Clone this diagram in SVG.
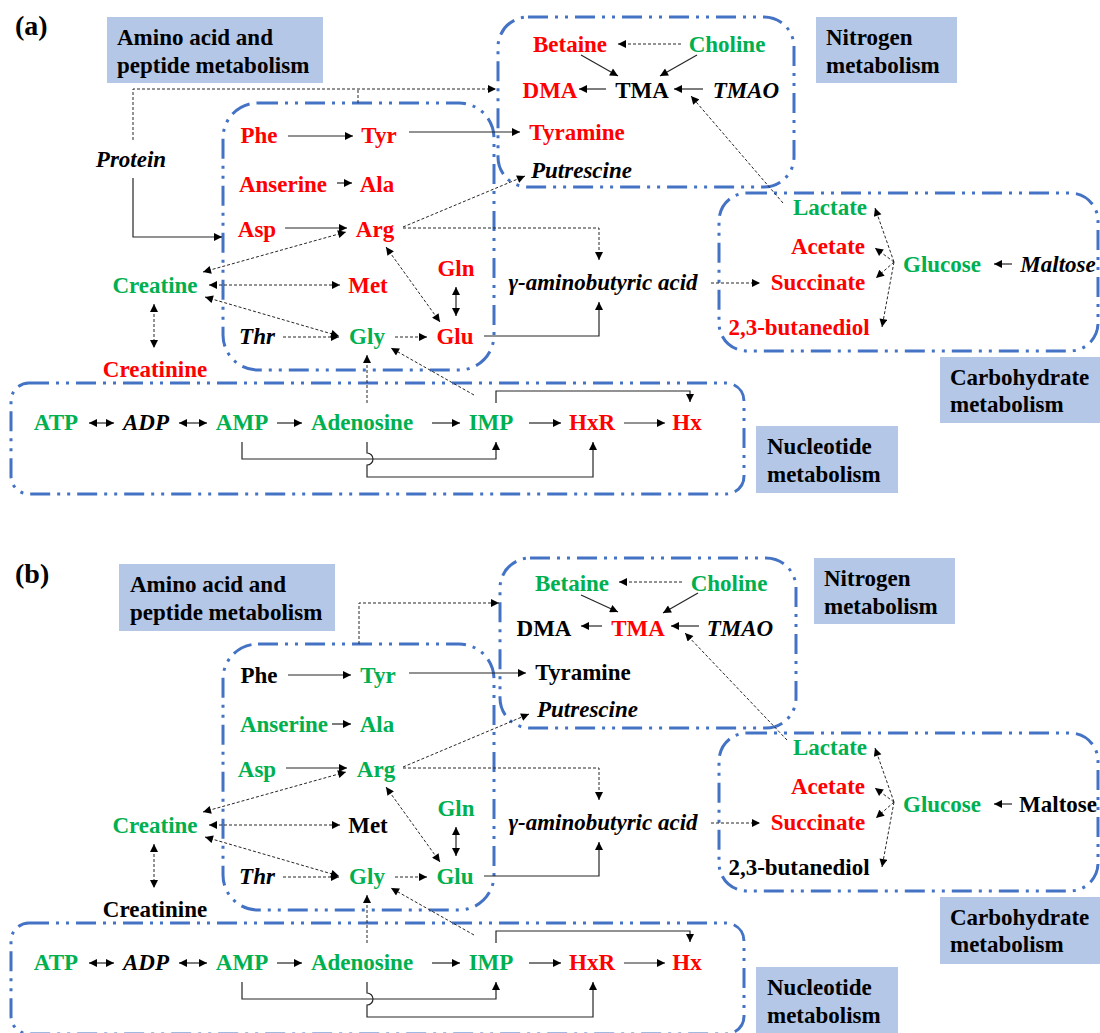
<svg xmlns="http://www.w3.org/2000/svg" width="1100" height="1033" viewBox="0 0 1100 1033">
<defs>
<style>
text{font-family:"Liberation Serif","Times New Roman",serif;font-weight:bold;font-size:23px;}
.n{text-anchor:middle;}
.r{fill:#ff0000;}
.g{fill:#00b050;}
.k{fill:#000;}
.i{font-style:italic;}
.lab{fill:#000;}
.lbox{fill:#b4c7e7;stroke:none;}
.grp{fill:none;stroke:#4472c4;stroke-width:3;stroke-dasharray:20 7 3 7 3 7;}
.s{fill:none;stroke:#262626;stroke-width:1.2;}
.d{fill:none;stroke:#262626;stroke-width:1;stroke-dasharray:3 2;}
.a{marker-end:url(#ah);}
.b{marker-start:url(#ah);marker-end:url(#ah);}
.pl{font-size:28px;fill:#000;}
</style>
<marker id="ah" viewBox="0 0 10 10" refX="10" refY="5" markerWidth="9" markerHeight="8" markerUnits="userSpaceOnUse" orient="auto-start-reverse">
<path d="M0,0 L10,5 L0,10 z" fill="#000"/>
</marker>
</defs>

<!-- ================= PANEL A ================= -->
<g id="panel-a">
<text id="label-a" class="pl" x="15" y="35">(a)</text>

<g id="groups-a">
<rect class="grp" x="223" y="103" width="271" height="267" rx="35"/>
<rect class="grp" x="498" y="17" width="296" height="170" rx="30"/>
<rect class="grp" x="719" y="193" width="379" height="158" rx="28"/>
<rect class="grp" x="11" y="383" width="733" height="111" rx="18"/>
</g>

<g id="labels-a">
<g id="lab-amino-a"><rect class="lbox" x="107" y="17" width="216" height="66"/><text class="lab" x="117" y="45">Amino acid and</text><text class="lab" x="117" y="73">peptide metabolism</text></g>
<g id="lab-nitrogen-a"><rect class="lbox" x="816" y="17" width="141" height="66"/><text class="lab" x="826" y="45">Nitrogen</text><text class="lab" x="826" y="73">metabolism</text></g>
<g id="lab-carb-a"><rect class="lbox" x="940" y="357" width="160" height="66"/><text class="lab" x="950" y="385">Carbohydrate</text><text class="lab" x="950" y="412">metabolism</text></g>
<g id="lab-nuc-a"><rect class="lbox" x="756" y="426" width="142" height="67"/><text class="lab" x="767" y="454">Nucleotide</text><text class="lab" x="767" y="482">metabolism</text></g>
</g>

<g id="connectors-a">
<path class="d a" d="M681,44 H618"/>
<path class="s a" d="M581,55 L618,76"/>
<path class="s a" d="M697,55 L660,76"/>
<path class="s a" d="M606,89 H579"/>
<path class="s a" d="M703,89 H674"/>
<path class="d a" d="M783,203 L691,96"/>
<path class="s a" d="M409,132 H520"/>
<path class="s a" d="M288,136 H353"/>
<path class="s a" d="M337,183 H352"/>
<path class="s a" d="M285,228 H347"/>
<path class="s a" d="M133,178 V237 H222"/>
<path class="d a" d="M133,140 V89 H496"/>
<path class="d" d="M358,103 V89"/>
<path class="d a" d="M403,227 L525,176"/>
<path class="d a" d="M403,228 H599 V260"/>
<path class="d b" d="M203,272 L346,232"/>
<path class="d b" d="M209,285 H340"/>
<path class="d b" d="M205,297 L339,336"/>
<path class="d b" d="M154,304 V348"/>
<path class="d a" d="M283,337 H339"/>
<path class="d a" d="M395,337 H427"/>
<path class="d b" d="M386,247 L440,322"/>
<path class="s b" d="M456,287 V316"/>
<path class="s a" d="M484,336 H599 V302"/>
<path class="d a" d="M711,283 H760"/>
<path class="s a" d="M1012,264 H994"/>
<path class="d a" d="M894,262 L875,208"/>
<path class="d a" d="M894,262 L875,248"/>
<path class="d a" d="M894,262 L876,278"/>
<path class="d a" d="M894,262 L882,327"/>
<path class="s b" d="M89,423 H114"/>
<path class="s b" d="M179,423 H207"/>
<path class="s a" d="M277,423 H302"/>
<path class="s a" d="M432,423 H460"/>
<path class="s a" d="M529,423 H561"/>
<path class="s a" d="M624,423 H665"/>
<path class="s a" d="M496,403 V391 H690 V402"/>
<path class="s a" d="M242,442 V459 H496 V442"/>
<path class="s a" d="M367,442 V453 A6,6 0 0 1 367,465 V477 H593 V442"/>
<path class="d a" d="M367,403 V355"/>
<path class="d a" d="M474,395 L391,348"/>
</g>

<g id="nodes-a">
<g id="a-betaine"><text class="n r" x="570" y="52">Betaine</text></g>
<g id="a-choline"><text class="n g" x="727" y="52">Choline</text></g>
<g id="a-dma"><text class="n r" x="550" y="98">DMA</text></g>
<g id="a-tma"><text class="n k" x="642" y="98">TMA</text></g>
<g id="a-tmao"><text class="n k i" x="746" y="98">TMAO</text></g>
<g id="a-tyramine"><text class="n r" x="577" y="140">Tyramine</text></g>
<g id="a-putrescine"><text class="k i" x="531" y="178">Putrescine</text></g>
<g id="a-protein"><text class="n k i" x="131" y="167">Protein</text></g>
<g id="a-phe"><text class="n r" x="259" y="143">Phe</text></g>
<g id="a-tyr"><text class="n r" x="379" y="143">Tyr</text></g>
<g id="a-anserine"><text class="n r" x="283" y="192">Anserine</text></g>
<g id="a-ala"><text class="n r" x="377" y="192">Ala</text></g>
<g id="a-asp"><text class="n r" x="257" y="237">Asp</text></g>
<g id="a-arg"><text class="n r" x="375" y="237">Arg</text></g>
<g id="a-creatine"><text class="n g" x="155" y="293">Creatine</text></g>
<g id="a-met"><text class="n r" x="368" y="293">Met</text></g>
<g id="a-gln"><text class="n r" x="456" y="276">Gln</text></g>
<g id="a-gaba"><text class="n k i" x="603" y="290">γ-aminobutyric acid</text></g>
<g id="a-thr"><text class="n k i" x="257" y="344">Thr</text></g>
<g id="a-gly"><text class="n g" x="367" y="344">Gly</text></g>
<g id="a-glu"><text class="n r" x="455" y="344">Glu</text></g>
<g id="a-creatinine"><text class="n r" x="155" y="377">Creatinine</text></g>
<g id="a-lactate"><text class="n g" x="830" y="215">Lactate</text></g>
<g id="a-acetate"><text class="n r" x="828" y="254">Acetate</text></g>
<g id="a-succinate"><text class="n r" x="818" y="290">Succinate</text></g>
<g id="a-butanediol"><text class="n r" x="799" y="335">2,3-butanediol</text></g>
<g id="a-glucose"><text class="n g" x="942" y="272">Glucose</text></g>
<g id="a-maltose"><text class="n k i" x="1058" y="272">Maltose</text></g>
<g id="a-atp"><text class="n g" x="56" y="430">ATP</text></g>
<g id="a-adp"><text class="n k i" x="146" y="430">ADP</text></g>
<g id="a-amp"><text class="n g" x="242" y="430">AMP</text></g>
<g id="a-adenosine"><text class="n g" x="362" y="430">Adenosine</text></g>
<g id="a-imp"><text class="n g" x="491" y="430">IMP</text></g>
<g id="a-hxr"><text class="n r" x="592" y="430">HxR</text></g>
<g id="a-hx"><text class="n r" x="687" y="430">Hx</text></g>
</g>
</g>

<!-- ================= PANEL B ================= -->
<g id="panel-b" transform="translate(0,540)">
<text id="label-b" class="pl" x="15" y="43">(b)</text>

<g id="groups-b">
<rect class="grp" x="223" y="104" width="271" height="266" rx="35"/>
<rect class="grp" x="500" y="18" width="296" height="170" rx="30"/>
<rect class="grp" x="719" y="193" width="379" height="158" rx="28"/>
<rect class="grp" x="11" y="383" width="733" height="111" rx="18"/>
</g>

<g id="labels-b">
<g id="lab-amino-b"><rect class="lbox" x="119" y="24" width="216" height="67"/><text class="lab" x="130" y="52">Amino acid and</text><text class="lab" x="130" y="80">peptide metabolism</text></g>
<g id="lab-nitrogen-b"><rect class="lbox" x="814" y="18" width="141" height="66"/><text class="lab" x="824" y="46">Nitrogen</text><text class="lab" x="824" y="74">metabolism</text></g>
<g id="lab-carb-b"><rect class="lbox" x="940" y="357" width="160" height="67"/><text class="lab" x="950" y="385">Carbohydrate</text><text class="lab" x="950" y="412">metabolism</text></g>
<g id="lab-nuc-b"><rect class="lbox" x="756" y="427" width="142" height="67"/><text class="lab" x="767" y="455">Nucleotide</text><text class="lab" x="767" y="483">metabolism</text></g>
</g>

<g id="connectors-b">
<path class="d a" d="M682,42 H619"/>
<path class="s a" d="M581,55 L618,72"/>
<path class="s a" d="M698,53 L663,73"/>
<path class="s a" d="M602,86 H581"/>
<path class="s a" d="M699,86 H671"/>
<path class="d a" d="M787,200 L685,93"/>
<path class="s a" d="M409,133 H526"/>
<path class="s a" d="M288,135 H351"/>
<path class="s a" d="M332,184 H351"/>
<path class="s a" d="M286,228 H347"/>
<path class="d a" d="M359,104 V63 H499"/>
<path class="d a" d="M403,227 L529,174"/>
<path class="d a" d="M403,228 H599 V260"/>
<path class="d b" d="M203,272 L346,232"/>
<path class="d b" d="M209,285 H340"/>
<path class="d b" d="M205,297 L339,336"/>
<path class="d b" d="M154,304 V348"/>
<path class="d a" d="M283,337 H339"/>
<path class="d a" d="M395,337 H427"/>
<path class="d b" d="M386,247 L440,322"/>
<path class="s b" d="M456,287 V316"/>
<path class="s a" d="M484,336 H599 V302"/>
<path class="d a" d="M711,283 H760"/>
<path class="s a" d="M1012,264 H994"/>
<path class="d a" d="M894,262 L875,208"/>
<path class="d a" d="M894,262 L875,248"/>
<path class="d a" d="M894,262 L876,278"/>
<path class="d a" d="M894,262 L882,327"/>
<path class="s b" d="M89,423 H114"/>
<path class="s b" d="M179,423 H207"/>
<path class="s a" d="M277,423 H302"/>
<path class="s a" d="M432,423 H460"/>
<path class="s a" d="M529,423 H561"/>
<path class="s a" d="M624,423 H665"/>
<path class="s a" d="M496,403 V391 H690 V402"/>
<path class="s a" d="M242,442 V459 H496 V442"/>
<path class="s a" d="M367,442 V453 A6,6 0 0 1 367,465 V477 H593 V442"/>
<path class="d a" d="M367,403 V355"/>
<path class="d a" d="M474,395 L391,348"/>
</g>

<g id="nodes-b">
<g id="b-betaine"><text class="n g" x="572" y="51">Betaine</text></g>
<g id="b-choline"><text class="n g" x="729" y="51">Choline</text></g>
<g id="b-dma"><text class="n k" x="544" y="96">DMA</text></g>
<g id="b-tma"><text class="n r" x="638" y="96">TMA</text></g>
<g id="b-tmao"><text class="n k i" x="740" y="96">TMAO</text></g>
<g id="b-tyramine"><text class="n k" x="583" y="140">Tyramine</text></g>
<g id="b-putrescine"><text class="k i" x="537" y="177">Putrescine</text></g>
<g id="b-phe"><text class="n k" x="259" y="143">Phe</text></g>
<g id="b-tyr"><text class="n g" x="378" y="143">Tyr</text></g>
<g id="b-anserine"><text class="n g" x="284" y="192">Anserine</text></g>
<g id="b-ala"><text class="n g" x="377" y="192">Ala</text></g>
<g id="b-asp"><text class="n g" x="257" y="237">Asp</text></g>
<g id="b-arg"><text class="n g" x="376" y="237">Arg</text></g>
<g id="b-creatine"><text class="n g" x="155" y="293">Creatine</text></g>
<g id="b-met"><text class="n k" x="368" y="293">Met</text></g>
<g id="b-gln"><text class="n g" x="456" y="276">Gln</text></g>
<g id="b-gaba"><text class="n k i" x="603" y="290">γ-aminobutyric acid</text></g>
<g id="b-thr"><text class="n k i" x="257" y="344">Thr</text></g>
<g id="b-gly"><text class="n g" x="367" y="344">Gly</text></g>
<g id="b-glu"><text class="n g" x="455" y="344">Glu</text></g>
<g id="b-creatinine"><text class="n k" x="155" y="377">Creatinine</text></g>
<g id="b-lactate"><text class="n g" x="830" y="215">Lactate</text></g>
<g id="b-acetate"><text class="n r" x="828" y="254">Acetate</text></g>
<g id="b-succinate"><text class="n r" x="818" y="290">Succinate</text></g>
<g id="b-butanediol"><text class="n k" x="799" y="335">2,3-butanediol</text></g>
<g id="b-glucose"><text class="n g" x="942" y="272">Glucose</text></g>
<g id="b-maltose"><text class="n k" x="1058" y="272">Maltose</text></g>
<g id="b-atp"><text class="n g" x="56" y="430">ATP</text></g>
<g id="b-adp"><text class="n k i" x="146" y="430">ADP</text></g>
<g id="b-amp"><text class="n g" x="242" y="430">AMP</text></g>
<g id="b-adenosine"><text class="n g" x="362" y="430">Adenosine</text></g>
<g id="b-imp"><text class="n g" x="491" y="430">IMP</text></g>
<g id="b-hxr"><text class="n r" x="592" y="430">HxR</text></g>
<g id="b-hx"><text class="n r" x="687" y="430">Hx</text></g>
</g>
</g>
</svg>
